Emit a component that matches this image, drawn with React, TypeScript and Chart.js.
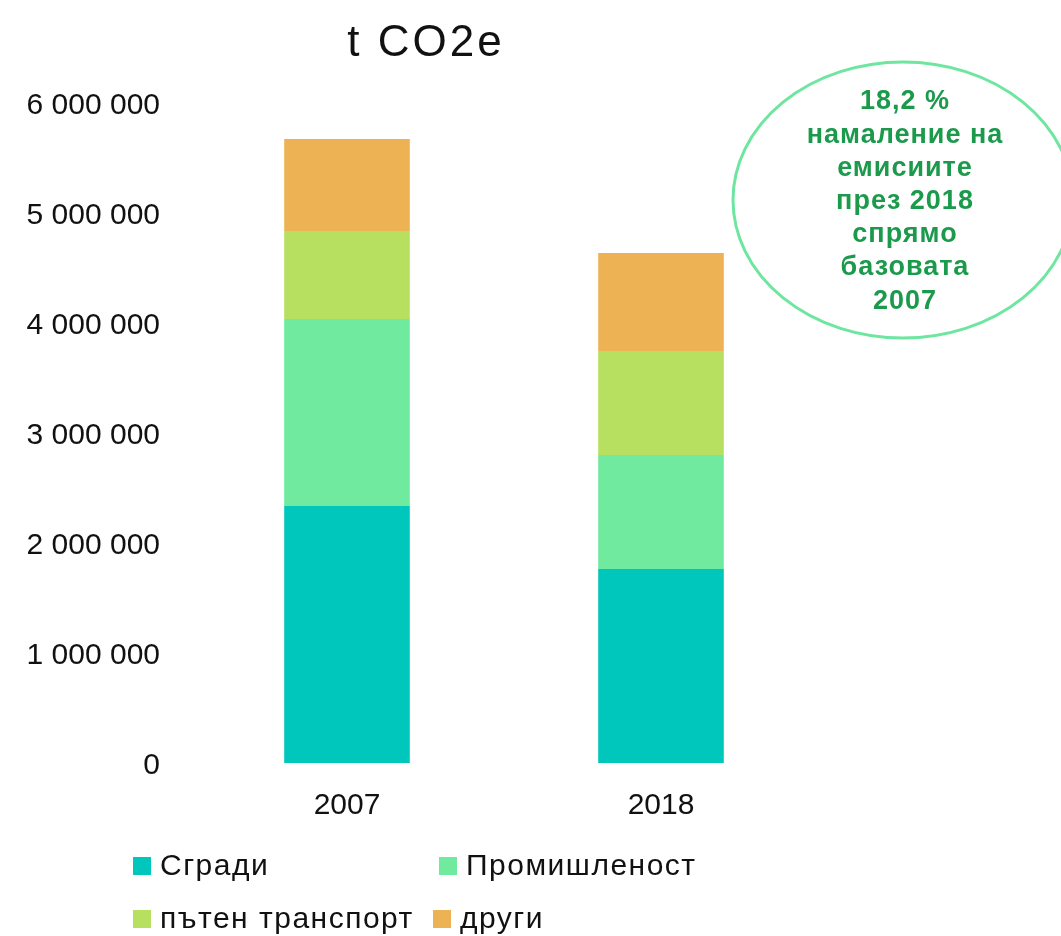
import React, { useEffect, useRef } from "react";
import { Chart, registerables } from "chart.js";

Chart.register(...registerables);

const categories = ["2007", "2018"];
const seriesNames = ["Сгради", "Промишленост", "пътен транспорт", "други"];
const buildings = [2336000, 1764000];
const industry = [1700000, 1036000];
const roadTransport = [800000, 945000];
const others = [837000, 891000];
const seriesColors = ["#00C7BB", "#6FEA9E", "#B7E060", "#EDB254"];
const yTicks = [0, 1000000, 2000000, 3000000, 4000000, 5000000, 6000000];
const titleText = "t CO2e";
const noteLines = [
  "18,2 %",
  "намаление на",
  "емисиите",
  "през 2018",
  "спрямо",
  "базовата",
  "2007",
];

const FONT = "'Liberation Sans', Arial, sans-serif";

const fmt = (v: number) =>
  String(v).replace(/\B(?=(\d{3})+(?!\d))/g, " ");

const decorPlugin = {
  id: "decor",
  afterDraw(chart: any) {
    const ctx = chart.ctx;
    ctx.save();
    // title
    ctx.fillStyle = "#111";
    ctx.font = `44px ${FONT}`;
    ctx.letterSpacing = "3px";
    ctx.textAlign = "center";
    ctx.textBaseline = "alphabetic";
    ctx.fillText(titleText, 426, 56);

    // ellipse note
    ctx.letterSpacing = "0px";
    ctx.beginPath();
    ctx.ellipse(903, 200, 170, 138, 0, 0, Math.PI * 2);
    ctx.strokeStyle = "#6EE6A0";
    ctx.lineWidth = 3;
    ctx.stroke();
    ctx.fillStyle = "#1B9A4C";
    ctx.font = `bold 27px ${FONT}`;
    ctx.letterSpacing = "1px";
    ctx.textAlign = "center";
    ctx.textBaseline = "middle";
    noteLines.forEach((line, i) => {
      ctx.fillText(line, 905, 102 + i * 33.2);
    });

    // legend
    const ds = chart.data.datasets;
    const pos = [
      [133, 866],
      [439, 866],
      [133, 919],
      [433, 919],
    ];
    ctx.font = `30px ${FONT}`;
    ctx.letterSpacing = "1.5px";
    ctx.textAlign = "left";
    ctx.textBaseline = "middle";
    ds.forEach((d: any, i: number) => {
      const [x, y] = pos[i];
      ctx.fillStyle = d.backgroundColor;
      ctx.fillRect(x, y - 9, 18, 18);
      ctx.fillStyle = "#111";
      ctx.fillText(d.label, x + 27, y + 1);
    });
    ctx.letterSpacing = "0px";
    ctx.restore();
  },
};

export default function App() {
  const ref = useRef<HTMLCanvasElement | null>(null);
  useEffect(() => {
    document.body.style.margin = "0";
    const values = [buildings, industry, roadTransport, others];
    const chart = new Chart(ref.current as HTMLCanvasElement, {
      type: "bar",
      data: {
        labels: categories,
        datasets: seriesNames.map((name, i) => ({
          label: name,
          data: values[i],
          backgroundColor: seriesColors[i],
          borderWidth: 0,
          categoryPercentage: 1,
          barPercentage: 0.4,
        })),
      },
      options: {
        responsive: false,
        animation: false,
        devicePixelRatio: 1,
        layout: { padding: { top: 103, right: 243, bottom: 0, left: 0 } },
        plugins: {
          legend: { display: false },
          title: { display: false },
          tooltip: { enabled: false },
        },
        scales: {
          x: {
            stacked: true,
            grid: { display: false, drawTicks: false },
            border: { display: false },
            ticks: {
              color: "#111",
              font: { family: FONT, size: 30 },
              padding: 25,
            },
            afterFit: (s: any) => {
              s.height = 173;
            },
          },
          y: {
            stacked: true,
            min: 0,
            max: 6000000,
            grid: { display: false, drawTicks: false },
            border: { display: false },
            afterBuildTicks: (s: any) => {
              s.ticks = yTicks.map((v) => ({ value: v }));
            },
            ticks: {
              color: "#111",
              font: { family: FONT, size: 30 },
              padding: 30,
              labelOffset: 3,
              callback: (v: any) => fmt(Number(v)),
            },
            afterFit: (s: any) => {
              s.width = 190;
            },
          },
        },
      },
      plugins: [decorPlugin],
    });
    return () => chart.destroy();
  }, []);
  return (
    <div style={{ position: "absolute", left: 0, top: 0, width: 1061, height: 936, background: "#fff", overflow: "hidden" }}>
      <canvas ref={ref} width={1061} height={936} style={{ display: "block" }} />
    </div>
  );
}
